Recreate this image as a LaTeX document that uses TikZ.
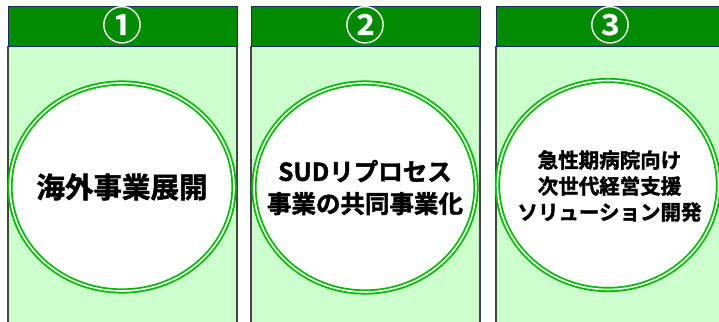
\documentclass[tikz,border=0pt]{standalone}
\usepackage{fontspec}
\newfontfamily\jp{Noto Sans CJK JP Bold}[FakeBold=1.8]
\newfontfamily\jpnum{Noto Sans CJK JP Bold}
\definecolor{hdr}{HTML}{008A00}
\definecolor{bodyg}{HTML}{CCFFCC}
\definecolor{ring}{HTML}{00BB00}
\definecolor{navy}{HTML}{1F2A5A}
\definecolor{sideg}{HTML}{444444}
\tikzset{
  panelbody/.style={fill=bodyg, draw=sideg, line width=1.2pt},
  header/.style={fill=hdr, draw=navy, line width=0.8pt},
  numlabel/.style={text=white, font=\jpnum\fontsize{40}{40}\selectfont, inner sep=0pt},
  ringnode/.style={ellipse, fill=white, draw=ring, double=white, double distance=1.6pt, line width=1.8pt, inner sep=0pt},
  bigtext/.style={align=center, inner sep=0pt}
}
\usetikzlibrary{shapes.geometric}
\begin{document}
\begin{tikzpicture}[x=1pt,y=-1pt]
\useasboundingbox (0,0) rectangle (719,321);
% panel 1
\draw[panelbody] (8,46) -- (8,325) -- (237,325) -- (237,46);
\path[fill=bodyg] (8.6,46) rectangle (236.4,321);
\draw[header] (8,6) rectangle (237,46);
\node[numlabel] (n1) at (122.5,25) {①};
\node[ringnode, minimum width=224pt, minimum height=208pt] (c1) at (122,187) {};
\node[bigtext, font=\jp\fontsize{28.5}{30}\selectfont] (t1) at (c1.center) {海外事業展開};
% panel 2
\draw[panelbody] (251,46) -- (251,325) -- (480,325) -- (480,46);
\path[fill=bodyg] (251.6,46) rectangle (479.4,321);
\draw[header] (251,6) rectangle (480,46);
\node[numlabel] (n2) at (365.5,25) {②};
\node[ringnode, minimum width=222pt, minimum height=209pt] (c2) at (365,187.5) {};
\node[bigtext, font=\jp\fontsize{24.5}{32}\selectfont] (t2) at (c2.center) {SUDリプロセス\\事業の共同事業化};
% panel 3
\draw[panelbody] (496,46) -- (496,325) -- (725,325) -- (725,46);
\path[fill=bodyg] (496.6,46) rectangle (724.4,321);
\draw[header] (496,6) rectangle (725,46);
\node[numlabel] (n3) at (610,25) {③};
\node[ringnode, minimum width=221pt, minimum height=209pt] (c3) at (608,185) {};
\node[bigtext, font=\jp\fontsize{20.5}{26}\selectfont] (t3) at (609.5,186) {急性期病院向け\\次世代経営支援\\ソリューション開発};
\end{tikzpicture}
\end{document}
